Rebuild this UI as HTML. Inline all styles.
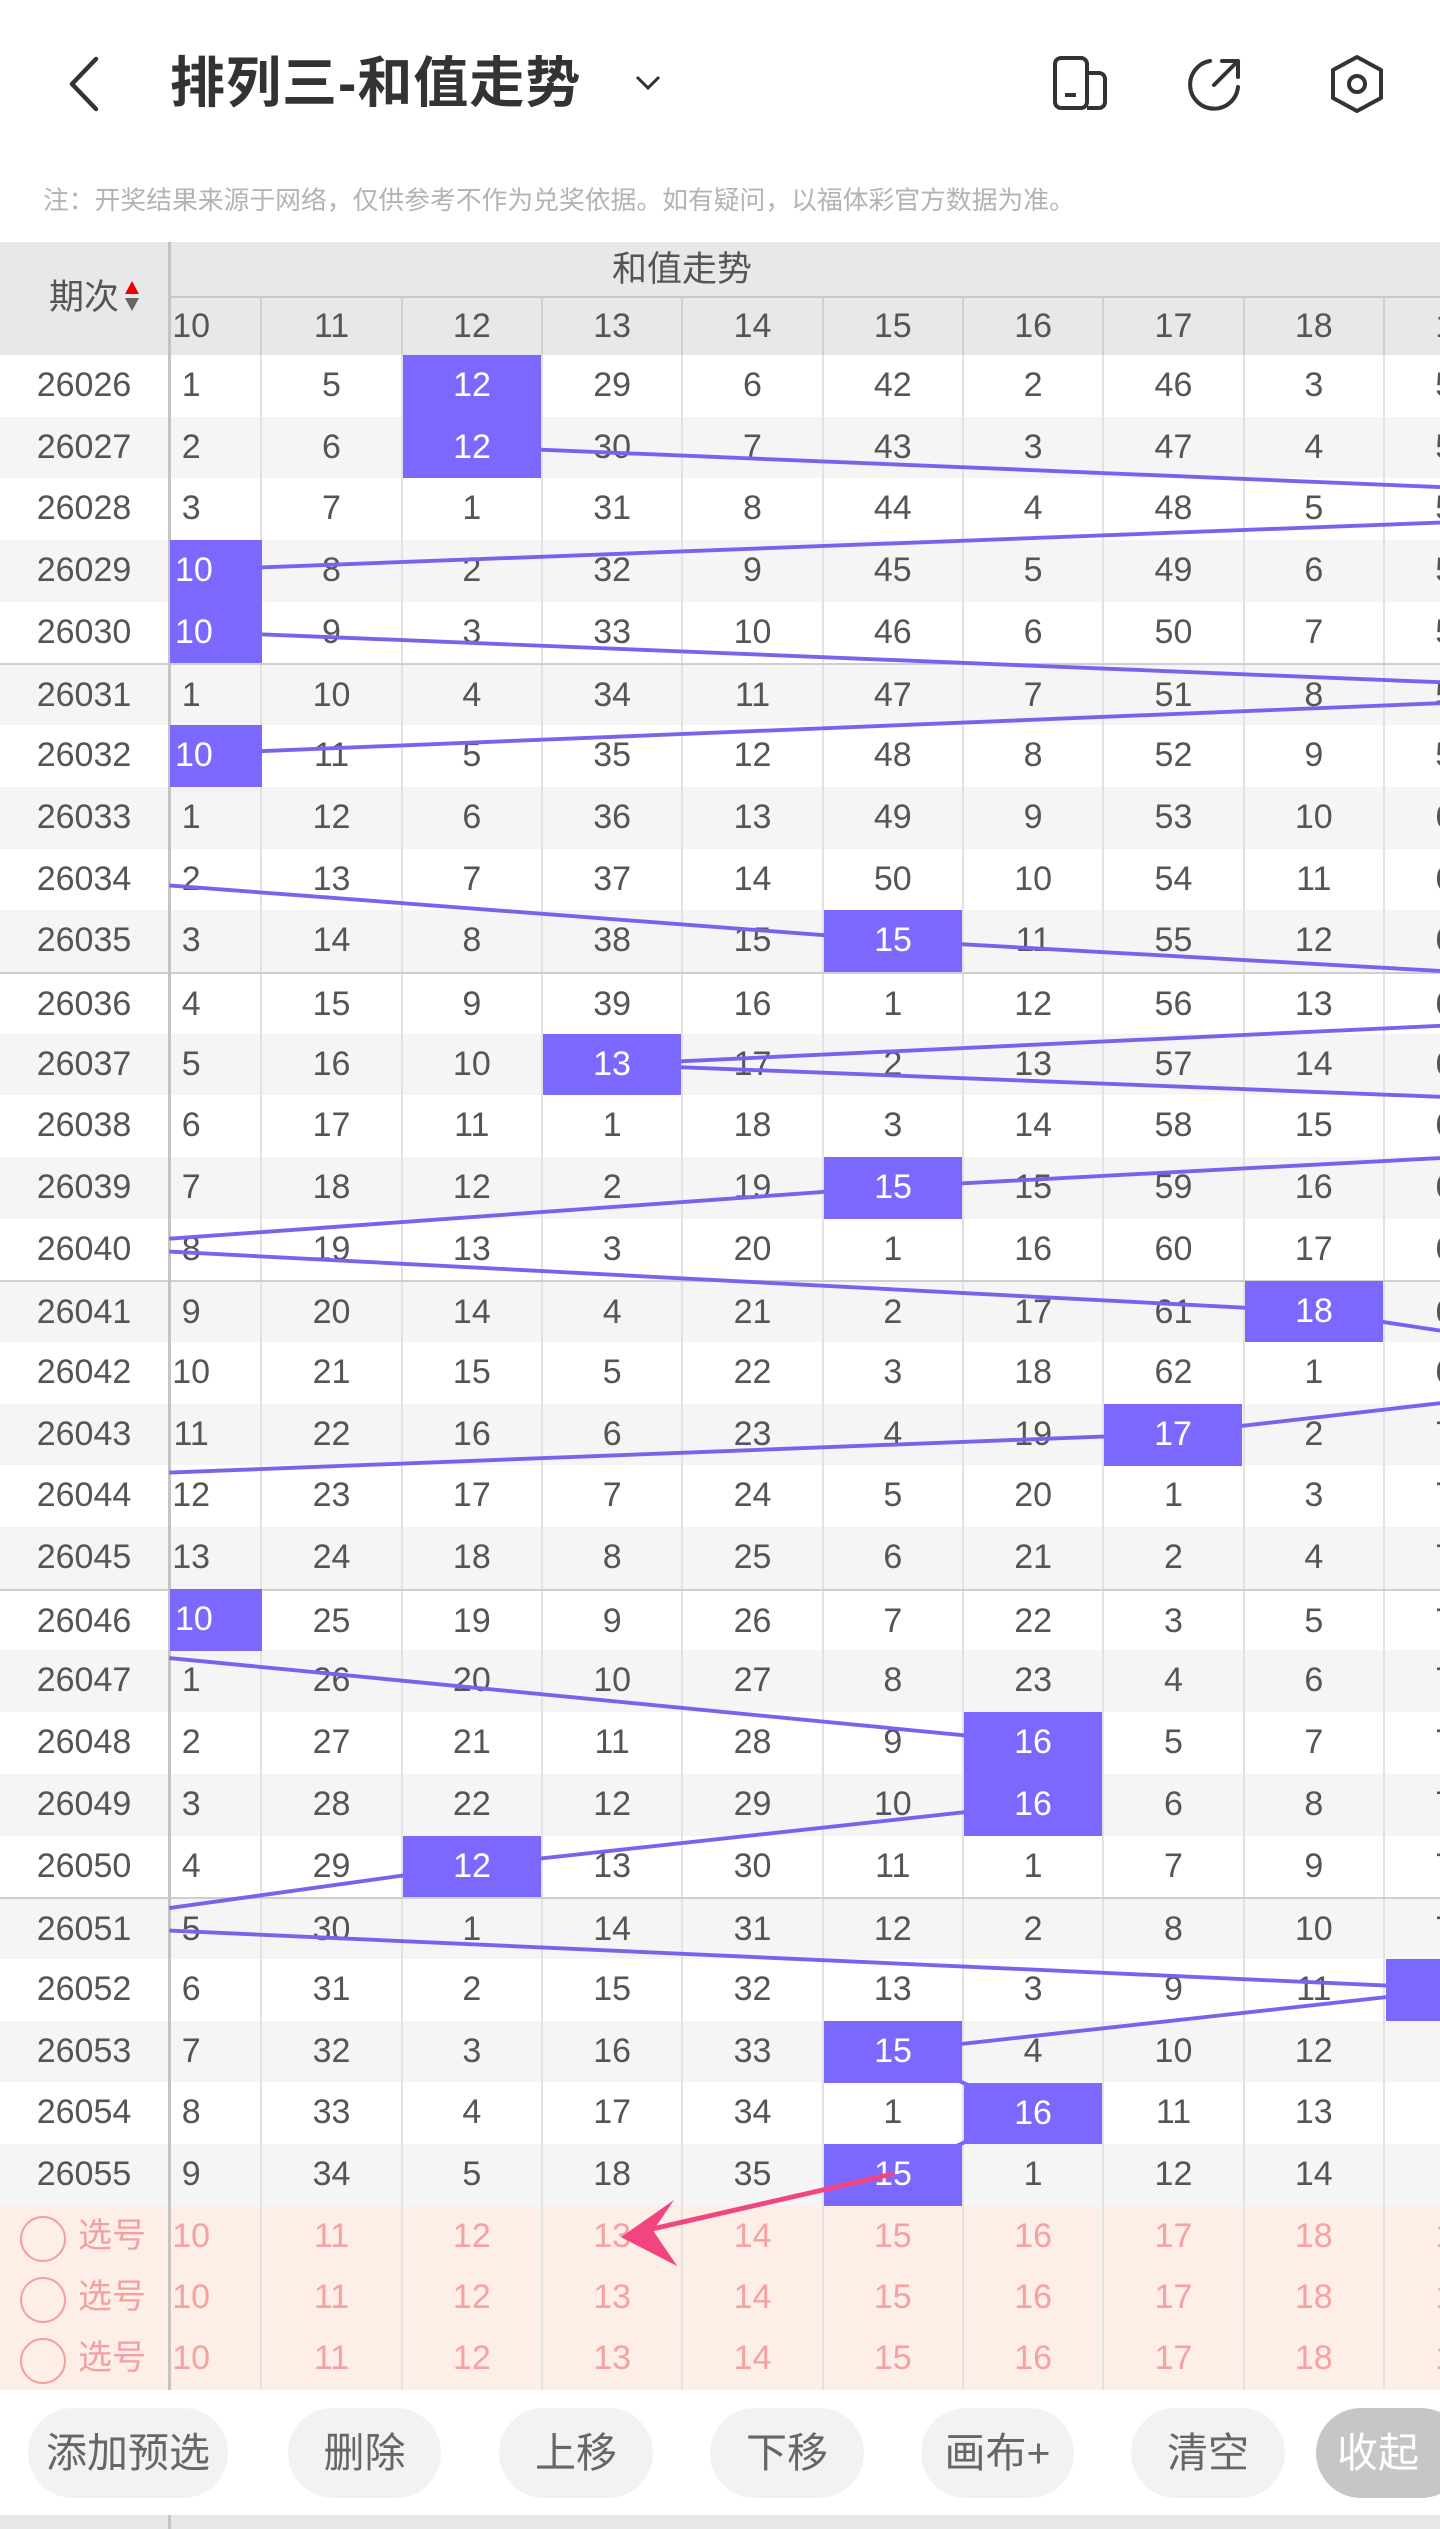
<!DOCTYPE html>
<html><head><meta charset="utf-8">
<style>
*{margin:0;padding:0;box-sizing:border-box}
body{width:1440px;height:2529px;position:relative;overflow:hidden;background:#fff;font-family:"Liberation Sans","Noto Sans CJK SC",sans-serif;color:#555}
.abs{position:absolute}
#tbl{position:absolute;left:0;top:355px;width:1440px}
.r{height:61.7px;display:flex;position:relative;background:#fff}
.r.g{background:#f5f5f5}
.r.s{border-top:2px solid #cfcfcf}
.r b{font-weight:normal;width:168px;text-align:center;font-size:34px;line-height:61.7px;color:#555;flex:none}
.c{position:absolute;left:168px;top:0;width:1272px;height:100%;overflow:hidden}
.c div{position:absolute;left:-46px;top:0;width:1500px;display:flex}
.c i{font-style:normal;width:140.33px;text-align:center;font-size:34px;line-height:61.7px;color:#555;border-right:2px solid #e2e2e2;flex:none;height:61.7px}
.h{position:absolute;background:#7b68ff;color:#fff;font-size:34px;text-align:center;line-height:61.7px;height:61.7px;z-index:5;overflow:hidden}
.sel{height:61.4px;display:flex;position:relative;background:#fdeee8}
.sel .c i{color:#f5a2a2;line-height:61.4px;height:61.4px}
.sel b{font-weight:normal;width:168px;flex:none;font-size:34px;color:#f2a0a0;line-height:61.4px;position:relative;padding-left:78px}
.sel b:before{content:"";position:absolute;left:20px;top:10px;width:42px;height:42px;border:2.5px solid #f2a0a0;border-radius:50%}
.btn{position:absolute;top:2408px;height:90px;border-radius:45px;background:#f1f2f4;color:#666;font-size:41px;text-align:center;line-height:90px}
</style></head><body>
<!-- top bar -->
<svg class="abs" style="left:66px;top:56px" width="36" height="56"><polyline points="30,3 6,28 30,53" fill="none" stroke="#333" stroke-width="4.5" stroke-linecap="round" stroke-linejoin="round"/></svg>
<div class="abs" style="left:170px;top:50px;font-size:55px;font-weight:bold;color:#333;line-height:66px;letter-spacing:1px">排列三-和值走势</div>
<svg class="abs" style="left:634px;top:74px" width="28" height="18"><polyline points="3,3 14,14 25,3" fill="none" stroke="#333" stroke-width="3"/></svg>
<svg class="abs" style="left:1052px;top:55px" width="58" height="56"><rect x="3" y="3" width="32" height="50" rx="6" fill="none" stroke="#333" stroke-width="4"/><path d="M35 18h12a6 6 0 0 1 6 6v23a6 6 0 0 1-6 6H35" fill="none" stroke="#333" stroke-width="4"/><line x1="13" y1="40" x2="24" y2="40" stroke="#333" stroke-width="4"/></svg>
<svg class="abs" style="left:1186px;top:55px" width="58" height="58"><path d="M24 6A24 24 0 1 0 52 32" fill="none" stroke="#333" stroke-width="4" stroke-linecap="round"/><path d="M28 30L52 6M36 6h16v16" fill="none" stroke="#333" stroke-width="4" stroke-linecap="round" stroke-linejoin="round"/></svg>
<svg class="abs" style="left:1328px;top:54px" width="58" height="60"><polygon points="29,3 53,16 53,44 29,57 5,44 5,16" fill="none" stroke="#333" stroke-width="4" stroke-linejoin="round"/><circle cx="29" cy="30" r="8" fill="none" stroke="#333" stroke-width="4"/></svg>
<div class="abs" style="left:43px;top:184px;font-size:25.8px;color:#b3b3b3;line-height:34px">注：开奖结果来源于网络，仅供参考不作为兑奖依据。如有疑问，以福体彩官方数据为准。</div>
<!-- header -->
<div class="abs" style="left:0;top:242px;width:1440px;height:113px;background:#e8e8e8"></div>
<div class="abs" style="left:44px;top:268px;width:80px;text-align:center;font-size:35px;color:#555;line-height:60px">期次</div>
<svg class="abs" style="left:124px;top:281px" width="16" height="34"><polygon points="8,0 15,13 1,13" fill="#e00"/><polygon points="1,17 15,17 8,30" fill="#666"/></svg>
<div class="abs" style="left:168px;top:242px;width:3px;height:2148px;background:#c4c4c4;z-index:3"></div>
<div class="abs" style="left:171px;top:242px;width:1022px;text-align:center;font-size:35px;color:#555;line-height:56px">和值走势</div>
<div class="abs" style="left:171px;top:296px;width:1269px;height:2px;background:#c8c8c8"></div>
<div class="abs" style="left:168px;top:298px;width:1272px;height:57px;overflow:hidden">
<div style="position:absolute;left:-46px;top:0;display:flex;width:1500px">
<i style="font-style:normal;width:140.33px;text-align:center;font-size:34px;line-height:57px;border-right:2px solid #d0d0d0">10</i><i style="font-style:normal;width:140.33px;text-align:center;font-size:34px;line-height:57px;border-right:2px solid #d0d0d0">11</i><i style="font-style:normal;width:140.33px;text-align:center;font-size:34px;line-height:57px;border-right:2px solid #d0d0d0">12</i><i style="font-style:normal;width:140.33px;text-align:center;font-size:34px;line-height:57px;border-right:2px solid #d0d0d0">13</i><i style="font-style:normal;width:140.33px;text-align:center;font-size:34px;line-height:57px;border-right:2px solid #d0d0d0">14</i><i style="font-style:normal;width:140.33px;text-align:center;font-size:34px;line-height:57px;border-right:2px solid #d0d0d0">15</i><i style="font-style:normal;width:140.33px;text-align:center;font-size:34px;line-height:57px;border-right:2px solid #d0d0d0">16</i><i style="font-style:normal;width:140.33px;text-align:center;font-size:34px;line-height:57px;border-right:2px solid #d0d0d0">17</i><i style="font-style:normal;width:140.33px;text-align:center;font-size:34px;line-height:57px;border-right:2px solid #d0d0d0">18</i><i style="font-style:normal;width:140.33px;text-align:center;font-size:34px;line-height:57px;border-right:2px solid #d0d0d0">19</i>
</div></div>
<!-- table -->
<div id="tbl">
<div class="r"><b>26026</b><div class="c"><div><i>1</i><i>5</i><i>12</i><i>29</i><i>6</i><i>42</i><i>2</i><i>46</i><i>3</i><i>53</i></div></div></div>
<div class="r g"><b>26027</b><div class="c"><div><i>2</i><i>6</i><i>12</i><i>30</i><i>7</i><i>43</i><i>3</i><i>47</i><i>4</i><i>54</i></div></div></div>
<div class="r"><b>26028</b><div class="c"><div><i>3</i><i>7</i><i>1</i><i>31</i><i>8</i><i>44</i><i>4</i><i>48</i><i>5</i><i>55</i></div></div></div>
<div class="r g"><b>26029</b><div class="c"><div><i>10</i><i>8</i><i>2</i><i>32</i><i>9</i><i>45</i><i>5</i><i>49</i><i>6</i><i>56</i></div></div></div>
<div class="r"><b>26030</b><div class="c"><div><i>10</i><i>9</i><i>3</i><i>33</i><i>10</i><i>46</i><i>6</i><i>50</i><i>7</i><i>57</i></div></div></div>
<div class="r g s"><b>26031</b><div class="c"><div><i>1</i><i>10</i><i>4</i><i>34</i><i>11</i><i>47</i><i>7</i><i>51</i><i>8</i><i>58</i></div></div></div>
<div class="r"><b>26032</b><div class="c"><div><i>10</i><i>11</i><i>5</i><i>35</i><i>12</i><i>48</i><i>8</i><i>52</i><i>9</i><i>59</i></div></div></div>
<div class="r g"><b>26033</b><div class="c"><div><i>1</i><i>12</i><i>6</i><i>36</i><i>13</i><i>49</i><i>9</i><i>53</i><i>10</i><i>60</i></div></div></div>
<div class="r"><b>26034</b><div class="c"><div><i>2</i><i>13</i><i>7</i><i>37</i><i>14</i><i>50</i><i>10</i><i>54</i><i>11</i><i>61</i></div></div></div>
<div class="r g"><b>26035</b><div class="c"><div><i>3</i><i>14</i><i>8</i><i>38</i><i>15</i><i>15</i><i>11</i><i>55</i><i>12</i><i>62</i></div></div></div>
<div class="r s"><b>26036</b><div class="c"><div><i>4</i><i>15</i><i>9</i><i>39</i><i>16</i><i>1</i><i>12</i><i>56</i><i>13</i><i>63</i></div></div></div>
<div class="r g"><b>26037</b><div class="c"><div><i>5</i><i>16</i><i>10</i><i>13</i><i>17</i><i>2</i><i>13</i><i>57</i><i>14</i><i>64</i></div></div></div>
<div class="r"><b>26038</b><div class="c"><div><i>6</i><i>17</i><i>11</i><i>1</i><i>18</i><i>3</i><i>14</i><i>58</i><i>15</i><i>65</i></div></div></div>
<div class="r g"><b>26039</b><div class="c"><div><i>7</i><i>18</i><i>12</i><i>2</i><i>19</i><i>15</i><i>15</i><i>59</i><i>16</i><i>66</i></div></div></div>
<div class="r"><b>26040</b><div class="c"><div><i>8</i><i>19</i><i>13</i><i>3</i><i>20</i><i>1</i><i>16</i><i>60</i><i>17</i><i>67</i></div></div></div>
<div class="r g s"><b>26041</b><div class="c"><div><i>9</i><i>20</i><i>14</i><i>4</i><i>21</i><i>2</i><i>17</i><i>61</i><i>18</i><i>68</i></div></div></div>
<div class="r"><b>26042</b><div class="c"><div><i>10</i><i>21</i><i>15</i><i>5</i><i>22</i><i>3</i><i>18</i><i>62</i><i>1</i><i>69</i></div></div></div>
<div class="r g"><b>26043</b><div class="c"><div><i>11</i><i>22</i><i>16</i><i>6</i><i>23</i><i>4</i><i>19</i><i>17</i><i>2</i><i>70</i></div></div></div>
<div class="r"><b>26044</b><div class="c"><div><i>12</i><i>23</i><i>17</i><i>7</i><i>24</i><i>5</i><i>20</i><i>1</i><i>3</i><i>71</i></div></div></div>
<div class="r g"><b>26045</b><div class="c"><div><i>13</i><i>24</i><i>18</i><i>8</i><i>25</i><i>6</i><i>21</i><i>2</i><i>4</i><i>72</i></div></div></div>
<div class="r s"><b>26046</b><div class="c"><div><i>10</i><i>25</i><i>19</i><i>9</i><i>26</i><i>7</i><i>22</i><i>3</i><i>5</i><i>73</i></div></div></div>
<div class="r g"><b>26047</b><div class="c"><div><i>1</i><i>26</i><i>20</i><i>10</i><i>27</i><i>8</i><i>23</i><i>4</i><i>6</i><i>74</i></div></div></div>
<div class="r"><b>26048</b><div class="c"><div><i>2</i><i>27</i><i>21</i><i>11</i><i>28</i><i>9</i><i>16</i><i>5</i><i>7</i><i>75</i></div></div></div>
<div class="r g"><b>26049</b><div class="c"><div><i>3</i><i>28</i><i>22</i><i>12</i><i>29</i><i>10</i><i>16</i><i>6</i><i>8</i><i>76</i></div></div></div>
<div class="r"><b>26050</b><div class="c"><div><i>4</i><i>29</i><i>12</i><i>13</i><i>30</i><i>11</i><i>1</i><i>7</i><i>9</i><i>77</i></div></div></div>
<div class="r g s"><b>26051</b><div class="c"><div><i>5</i><i>30</i><i>1</i><i>14</i><i>31</i><i>12</i><i>2</i><i>8</i><i>10</i><i>78</i></div></div></div>
<div class="r"><b>26052</b><div class="c"><div><i>6</i><i>31</i><i>2</i><i>15</i><i>32</i><i>13</i><i>3</i><i>9</i><i>11</i><i>19</i></div></div></div>
<div class="r g"><b>26053</b><div class="c"><div><i>7</i><i>32</i><i>3</i><i>16</i><i>33</i><i>15</i><i>4</i><i>10</i><i>12</i><i>1</i></div></div></div>
<div class="r"><b>26054</b><div class="c"><div><i>8</i><i>33</i><i>4</i><i>17</i><i>34</i><i>1</i><i>16</i><i>11</i><i>13</i><i>2</i></div></div></div>
<div class="r g"><b>26055</b><div class="c"><div><i>9</i><i>34</i><i>5</i><i>18</i><i>35</i><i>15</i><i>1</i><i>12</i><i>14</i><i>3</i></div></div></div>
<div class="sel"><b>选号</b><div class="c"><div><i>10</i><i>11</i><i>12</i><i>13</i><i>14</i><i>15</i><i>16</i><i>17</i><i>18</i><i>19</i></div></div></div>
<div class="sel"><b>选号</b><div class="c"><div><i>10</i><i>11</i><i>12</i><i>13</i><i>14</i><i>15</i><i>16</i><i>17</i><i>18</i><i>19</i></div></div></div>
<div class="sel"><b>选号</b><div class="c"><div><i>10</i><i>11</i><i>12</i><i>13</i><i>14</i><i>15</i><i>16</i><i>17</i><i>18</i><i>19</i></div></div></div>
</div>
<!-- lines -->
<svg class="abs" style="left:0;top:0;z-index:4" width="1440" height="2529" viewBox="0 0 893 1568" preserveAspectRatio="none">
<g stroke="#7763ee" stroke-width="2.4" fill="none">
<line x1="292" y1="277" x2="893" y2="302"/>
<line x1="893" y1="324" x2="130" y2="353"/>
<line x1="130" y1="392" x2="893" y2="423"/>
<line x1="893" y1="436" x2="130" y2="467"/>
<line x1="105" y1="549" x2="553" y2="583"/>
<line x1="553" y1="583" x2="893" y2="602"/>
<polyline points="893,636 379,660 893,680"/>
<polyline points="893,718 553,736 105,768"/>
<polyline points="105,776 814,813 893,825"/>
<polyline points="893,870 727,889 105,913"/>
<line x1="105" y1="1028" x2="640" y2="1080"/>
<polyline points="640,1119 292,1157 105,1183"/>
<line x1="105" y1="1197" x2="880" y2="1232"/>
<polyline points="880,1236 553,1272 640,1310 553,1348"/>
</g>
</svg>
<!-- hits -->
<div class="h" style="left:170px;top:540.1px;width:92px;text-align:left;padding-left:5px">10</div>
<div class="h" style="left:170px;top:601.8px;width:92px;text-align:left;padding-left:5px">10</div>
<div class="h" style="left:170px;top:725.2px;width:92px;text-align:left;padding-left:5px">10</div>
<div class="h" style="left:170px;top:1589px;width:92px;text-align:left;padding-left:5px">10</div>
<div class="h" style="left:403px;top:355px;width:138px">12</div>
<div class="h" style="left:403px;top:416.7px;width:138px">12</div>
<div class="h" style="left:403px;top:1835.8px;width:138px">12</div>
<div class="h" style="left:543px;top:1033.7px;width:138px">13</div>
<div class="h" style="left:824px;top:910.3px;width:138px">15</div>
<div class="h" style="left:824px;top:1157.1px;width:138px">15</div>
<div class="h" style="left:824px;top:2020.9px;width:138px">15</div>
<div class="h" style="left:824px;top:2144.3px;width:138px">15</div>
<div class="h" style="left:964px;top:1712.4px;width:138px">16</div>
<div class="h" style="left:964px;top:1774.1px;width:138px">16</div>
<div class="h" style="left:964px;top:2082.6px;width:138px">16</div>
<div class="h" style="left:1104px;top:1403.9px;width:138px">17</div>
<div class="h" style="left:1245px;top:1280.5px;width:138px">18</div>
<div class="h" style="left:1386px;top:1959.2px;width:54px"></div>
<!-- arrow -->
<svg class="abs" style="left:0;top:0;z-index:6" width="1440" height="2529" viewBox="0 0 893 1568" preserveAspectRatio="none">
<line x1="553" y1="1348" x2="400" y2="1383" stroke="#f2457f" stroke-width="3" stroke-linecap="round"/>
<polygon points="385,1387 418,1364 405,1383 420,1405" fill="#f2457f"/>
</svg>
<!-- buttons -->
<div class="btn" style="left:28px;width:200px">添加预选</div>
<div class="btn" style="left:288px;width:153px">删除</div>
<div class="btn" style="left:499px;width:154px">上移</div>
<div class="btn" style="left:710px;width:154px">下移</div>
<div class="btn" style="left:921px;width:153px">画布+</div>
<div class="btn" style="left:1131px;width:154px">清空</div>
<div class="btn" style="left:1316px;width:150px;background:#c6c6c6;color:#fff;padding-right:26px">收起</div>
<div class="abs" style="left:0;top:2515px;width:1440px;height:14px;background:#e8e8e8"></div>
<div class="abs" style="left:168px;top:2515px;width:3px;height:14px;background:#c4c4c4"></div>
</body></html>
